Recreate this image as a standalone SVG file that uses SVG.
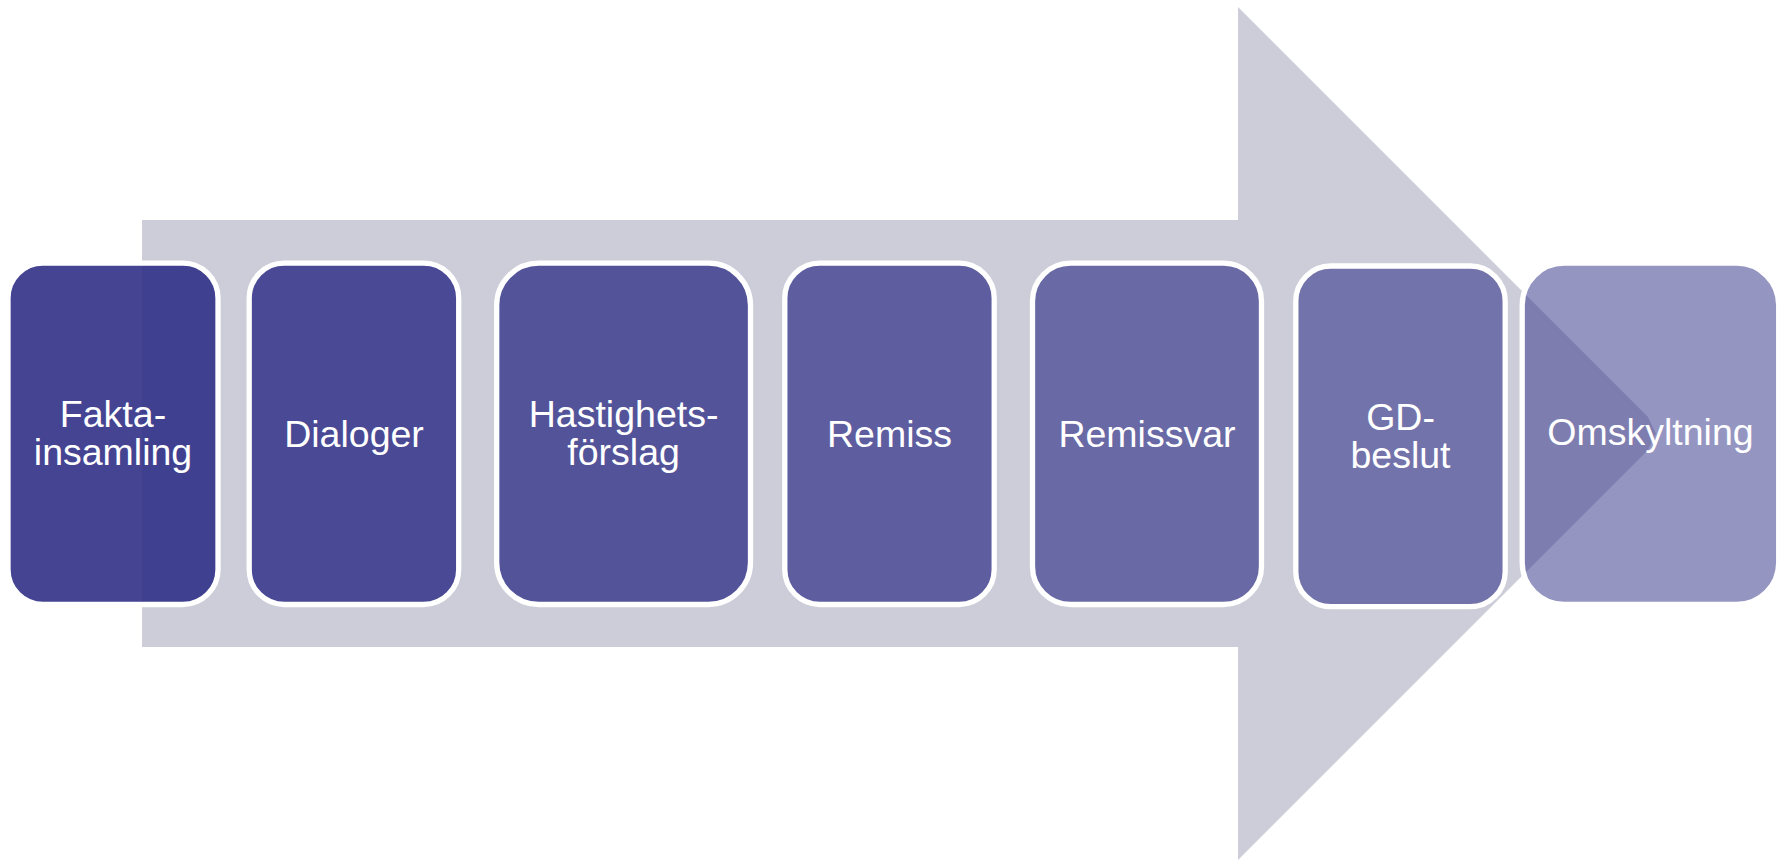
<svg xmlns="http://www.w3.org/2000/svg" width="1785" height="860" viewBox="0 0 1785 860">
<style>
.box{fill:#34348a;stroke:#ffffff;stroke-width:5.3}
.lbl{font-family:"Liberation Sans",Arial,sans-serif;font-size:37.5px;fill:#ffffff;text-anchor:middle}
</style>
<rect width="1785" height="860" fill="#ffffff"/>
<g id="connectors">
<polygon id="arrow" points="142,220 1238,220 1238,7 1648,417 1656,433.5 1648,450 1238,860 1238,647 142,647" fill="#cdcdda"/>
</g>
<g id="n1">
<rect class="box" x="8" y="263.2" width="210" height="341.3" rx="35" fill-opacity="0.92"/>
<text class="lbl" x="113" y="427">Fakta-</text>
<text class="lbl" x="113" y="465">insamling</text>
</g>
<g id="n2">
<rect class="box" x="249.2" y="263.2" width="209.5" height="341.3" rx="35" fill-opacity="0.865"/>
<text class="lbl" x="354" y="447">Dialoger</text>
</g>
<g id="n3">
<rect class="box" x="496.7" y="263.2" width="253.8" height="341.3" rx="42" fill-opacity="0.8"/>
<text class="lbl" x="623.6" y="427">Hastighets-</text>
<text class="lbl" x="623.6" y="465">förslag</text>
</g>
<g id="n4">
<rect class="box" x="784.8" y="263.2" width="209.4" height="341.3" rx="35" fill-opacity="0.735"/>
<text class="lbl" x="889.5" y="447">Remiss</text>
</g>
<g id="n5">
<rect class="box" x="1032.5" y="263.2" width="229" height="341.3" rx="38" fill-opacity="0.655"/>
<text class="lbl" x="1147" y="447">Remissvar</text>
</g>
<g id="n6">
<rect class="box" x="1295.8" y="266" width="209.4" height="340.7" rx="35" fill-opacity="0.59"/>
<text class="lbl" x="1400.5" y="429.5">GD-</text>
<text class="lbl" x="1400.5" y="467.5">beslut</text>
</g>
<g id="n7">
<rect class="box" x="1522.2" y="263.2" width="256.5" height="341.3" rx="42" fill-opacity="0.52"/>
<text class="lbl" x="1650.5" y="445">Omskyltning</text>
</g>
</svg>
